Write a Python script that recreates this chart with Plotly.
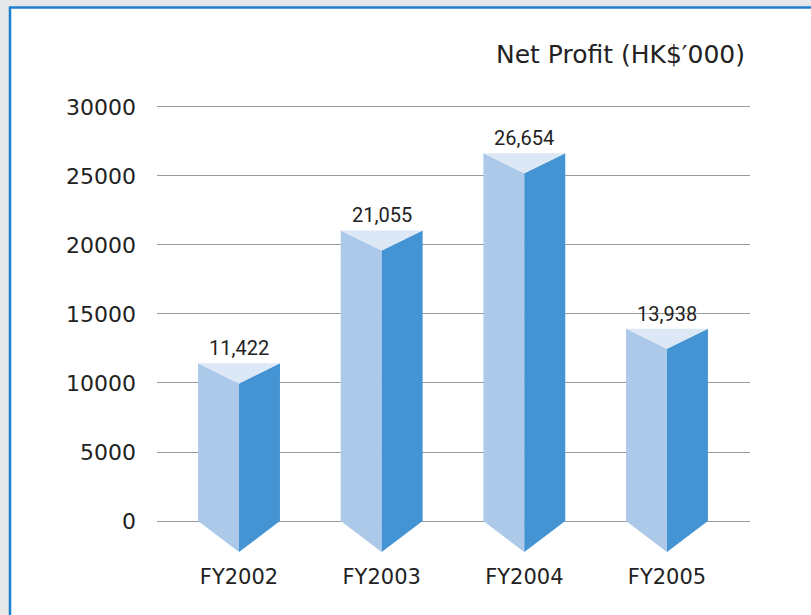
import plotly.graph_objects as go

categories = ["FY2002", "FY2003", "FY2004", "FY2005"]
net_profit = [11422, 21055, 26654, 13938]
value_labels = ["11,422", "21,055", "26,654", "13,938"]
y_ticks = [0, 5000, 10000, 15000, 20000, 25000, 30000]

# style / geometry
half_w = 0.287          # bar half width in category units
top_depth = 1450        # depth of the top "V" (y units)
bottom_depth = 2250     # depth of the bottom point below zero (y units)
c_left = "#adc9ea"
c_right = "#4494d4"
c_top = "#dde8f6"

fig = go.Figure()
for i, v in enumerate(net_profit):
    xl, xc, xr = i - half_w, i, i + half_w
    # left face
    fig.add_trace(go.Scatter(x=[xl, xc, xc, xl, xl], y=[v, v - top_depth, -bottom_depth, 0, v],
                             fill="toself", fillcolor=c_left, mode="lines",
                             line=dict(width=0, color=c_left), hoverinfo="skip", showlegend=False))
    # right face
    fig.add_trace(go.Scatter(x=[xr, xc, xc, xr, xr], y=[v, v - top_depth, -bottom_depth, 0, v],
                             fill="toself", fillcolor=c_right, mode="lines",
                             line=dict(width=0, color=c_right), hoverinfo="skip", showlegend=False))
    # top face
    fig.add_trace(go.Scatter(x=[xl, xr, xc, xl], y=[v, v, v - top_depth, v],
                             fill="toself", fillcolor=c_top, mode="lines",
                             line=dict(width=0, color=c_top), hoverinfo="skip", showlegend=False))
    fig.add_annotation(x=i, y=v, text=value_labels[i], showarrow=False, yanchor="bottom",
                       yshift=1, font=dict(family="Roboto", size=20, color="#222222"))

fig.add_annotation(xref="paper", yref="paper", x=0.995, y=1.082, text="Net Profit (HK$′000)",
                   showarrow=False, xanchor="right", yanchor="middle",
                   font=dict(family="DejaVu Sans", size=25, color="#222222"))

# white frame with blue border
fig.add_shape(type="rect", xref="paper", yref="paper", x0=-0.2479, x1=1.25, y0=-0.2, y1=1.1843,
              fillcolor="white", line=dict(color="#1f7fcf", width=2.5), layer="below")

fig.update_layout(
    width=811, height=615,
    margin=dict(l=157, r=61, t=93, b=58),
    paper_bgcolor="#e5e7e9",
    plot_bgcolor="rgba(0,0,0,0)",
    xaxis=dict(range=[-0.575, 3.582], tickvals=list(range(len(categories))), ticktext=categories,
               showgrid=False, zeroline=False, showline=False, ticks="",
               ticklabelstandoff=5,
               tickfont=dict(family="DejaVu Sans", size=21, color="#222222")),
    yaxis=dict(range=[-2609, 31014], tickvals=y_ticks, tickformat="d",
               showgrid=True, gridcolor="#9a9a9a", gridwidth=1,
               zeroline=True, zerolinecolor="#9a9a9a", zerolinewidth=1,
               showline=False, ticks="", ticklabelstandoff=20,
               tickfont=dict(family="DejaVu Sans", size=22, color="#222222")),
)

fig.write_html("out.html")
